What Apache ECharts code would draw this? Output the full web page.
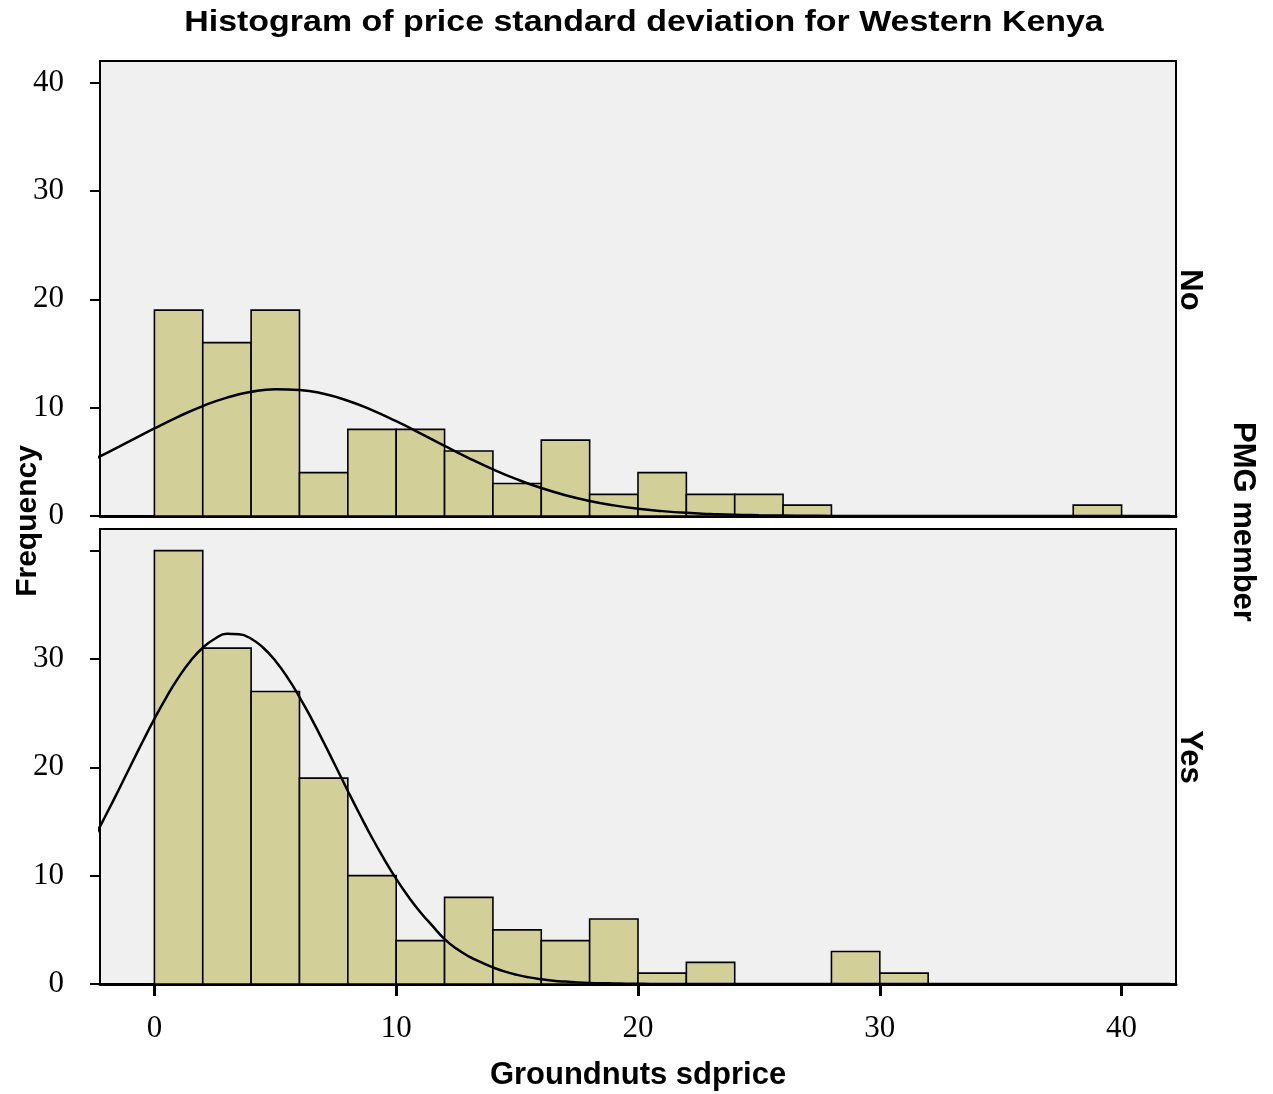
<!DOCTYPE html>
<html>
<head>
<meta charset="utf-8">
<script src="https://cdn.jsdelivr.net/npm/echarts@6/dist/echarts.min.js"></script>
<style>
  html, body { margin: 0; padding: 0; background: #ffffff; }
  #chart { width: 1273px; height: 1094px; }
</style>
</head>
<body>
<div id="chart"></div>
<script>
// Histogram bins (lower edge of each bin, bin width 2)
const binStart = [0, 2, 4, 6, 8, 10, 12, 14, 16, 18, 20, 22, 24, 26, 28, 30, 32, 34, 36, 38];
const binWidth = 2;

// Frequencies per bin for each PMG member group
const noCounts  = [19, 16, 19, 4, 8, 8, 6, 3, 7, 2, 4, 2, 2, 1, 0, 0, 0, 0, 0, 1];
const yesCounts = [40, 31, 27, 19, 10, 4, 8, 5, 4, 6, 1, 2, 0, 0, 3, 1, 0, 0, 0, 0];

// Normal curve heights (frequency scale), "No" group
const noCurveX = [-3, -2, -1, 0, 1, 2, 3, 4, 5, 6, 7, 8, 9, 10, 11, 12, 13, 14, 15, 16, 17, 18, 19, 20,
                  21, 22, 23, 24, 25, 26, 27, 28, 29, 30, 31, 32, 33, 34, 35, 36, 37, 38, 39, 40, 41, 42];
const noCurve = [4.71, 5.79, 6.93, 8.08, 9.18, 10.15, 10.93, 11.46, 11.71, 11.64, 11.28, 10.64, 9.78, 8.75,
                 7.63, 6.47, 5.35, 4.31, 3.38, 2.58, 1.92, 1.39, 0.98, 0.67, 0.45, 0.29, 0.19, 0.11, 0.07,
                 0.04, 0.02, 0.01, 0, 0, 0, 0, 0, 0, 0, 0, 0, 0, 0, 0, 0, 0];

// Normal curve heights (frequency scale), "Yes" group
const yesCurveX = [-3, -2.5, -2, -1.5, -1, -0.5, 0, 0.5, 1, 1.5, 2, 2.5, 3, 3.5, 4, 4.5, 5, 5.5, 6, 6.5,
                   7, 7.5, 8, 8.5, 9, 9.5, 10, 10.5, 11, 11.5, 12, 12.5, 13, 13.5, 14, 14.5, 15, 15.5,
                   16, 16.5, 17, 17.5, 18, 18.5, 19, 19.5, 20, 20.5, 21, 22, 24, 26, 28, 30, 32, 34,
                   36, 38, 40, 42];
const yesCurve = [11.53, 13.50, 15.62, 17.82, 20.08, 22.31, 24.48, 26.49, 28.30, 29.84, 31.04, 31.87,
                  32.32, 32.28, 31.87, 31.04, 29.84, 28.30, 26.49, 24.48, 22.31, 20.08, 17.82, 15.62,
                  13.50, 11.53, 9.70, 8.07, 6.62, 5.36, 4.15, 3.25, 2.55, 2.01, 1.53, 1.14, 0.84, 0.61,
                  0.44, 0.31, 0.22, 0.15, 0.10, 0.07, 0.05, 0.03, 0.02, 0.01, 0.01, 0, 0, 0, 0, 0, 0, 0,
                  0, 0, 0, 0];

// Tick positions and labels
const xTickValues = [0, 10, 20, 30, 40];
const yTickValues = [0, 10, 20, 30, 40];
const topYLabels = [0, 10, 20, 30, 40];
const bottomYLabels = [0, 10, 20, 30];

const panelNames = ['No', 'Yes'];
const titleText = 'Histogram of price standard deviation for Western Kenya';
const xName = 'Groundnuts sdprice';
const yName = 'Frequency';
const facetName = 'PMG member';

const BAR_FILL = '#d3cf98';
const SERIF = '"Liberation Serif", "DejaVu Serif", serif';
const SANS = '"Liberation Sans", Arial, sans-serif';

function binData(counts) {
  const out = [];
  counts.forEach((c, i) => {
    if (c > 0) out.push([binStart[i], binStart[i] + binWidth, c]);
  });
  return out;
}

function renderBin(params, api) {
  const topLeft = api.coord([api.value(0), api.value(2)]);
  const bottomRight = api.coord([api.value(1), 0]);
  return {
    type: 'rect',
    shape: {
      x: topLeft[0],
      y: topLeft[1],
      width: bottomRight[0] - topLeft[0],
      height: bottomRight[1] - topLeft[1]
    },
    style: { fill: BAR_FILL, stroke: '#000', lineWidth: 1.6 }
  };
}

function curveData(xs, values) {
  return xs.map((x, i) => [x, values[i]]);
}

const gridBase = {
  left: 100, width: 1076, height: 455,
  show: true, backgroundColor: '#f0f0f0', borderColor: '#000', borderWidth: 2
};

function xAxisFor(idx, withLabels) {
  return {
    type: 'value', gridIndex: idx, min: -2.25, max: 42.25,
    splitLine: { show: false },
    axisLine: { show: true, onZero: false, lineStyle: { color: '#000', width: 3 } },
    axisTick: withLabels
      ? { show: true, customValues: xTickValues, length: 12, lineStyle: { color: '#000', width: 3 } }
      : { show: false },
    axisLabel: withLabels
      ? { show: true, customValues: xTickValues, margin: 29, color: '#000', fontFamily: SERIF, fontSize: 31 }
      : { show: false },
    name: withLabels ? xName : '',
    nameLocation: 'middle',
    nameGap: 76,
    nameTextStyle: { color: '#000', fontFamily: SANS, fontWeight: 'bold', fontSize: 31 }
  };
}

function yAxisFor(idx, labels) {
  return {
    type: 'value', gridIndex: idx, min: 0, max: 42,
    splitLine: { show: false },
    axisLine: { show: true, onZero: false, lineStyle: { color: '#000', width: 2 } },
    axisTick: { show: true, customValues: yTickValues, length: 10, lineStyle: { color: '#000', width: 2 } },
    axisLabel: { show: true, customValues: labels, margin: 36, color: '#000', fontFamily: SERIF, fontSize: 31,
                 padding: [5, 0, 0, 0] }
  };
}

const chart = echarts.init(document.getElementById('chart'), null, { renderer: 'canvas' });

chart.setOption({
  animation: false,
  backgroundColor: '#ffffff',
  grid: [
    Object.assign({ top: 61 }, gridBase),
    Object.assign({ top: 529 }, gridBase)
  ],
  xAxis: [xAxisFor(0, false), xAxisFor(1, true)],
  yAxis: [yAxisFor(0, topYLabels), yAxisFor(1, bottomYLabels)],
  series: [
    { type: 'custom', name: panelNames[0], xAxisIndex: 0, yAxisIndex: 0,
      data: binData(noCounts), renderItem: renderBin, encode: { x: [0, 1], y: 2 }, z: 2 },
    { type: 'custom', name: panelNames[1], xAxisIndex: 1, yAxisIndex: 1,
      data: binData(yesCounts), renderItem: renderBin, encode: { x: [0, 1], y: 2 }, z: 2 },
    { type: 'line', xAxisIndex: 0, yAxisIndex: 0, data: curveData(noCurveX, noCurve), smooth: true,
      symbol: 'none', clip: true, lineStyle: { color: '#000', width: 2.5 }, z: 3 },
    { type: 'line', xAxisIndex: 1, yAxisIndex: 1, data: curveData(yesCurveX, yesCurve), smooth: true,
      symbol: 'none', clip: true, lineStyle: { color: '#000', width: 2.5 }, z: 3 }
  ],
  graphic: [
    { type: 'text', x: 644, y: 23, scaleX: 1.17, style: { text: titleText, fill: '#000',
      font: 'bold 29px ' + SANS, align: 'center', verticalAlign: 'middle' } },
    { type: 'text', x: 28, y: 521, rotation: Math.PI / 2, style: { text: yName, fill: '#000',
      font: 'bold 30px ' + SANS, align: 'center', verticalAlign: 'middle' } },
    { type: 'text', x: 1243, y: 522, rotation: -Math.PI / 2, style: { text: facetName, fill: '#000',
      font: 'bold 31px ' + SANS, align: 'center', verticalAlign: 'middle' } },
    { type: 'text', x: 1190, y: 290, rotation: -Math.PI / 2, style: { text: panelNames[0], fill: '#000',
      font: 'bold 31px ' + SANS, align: 'center', verticalAlign: 'middle' } },
    { type: 'text', x: 1190, y: 757, rotation: -Math.PI / 2, style: { text: panelNames[1], fill: '#000',
      font: 'bold 31px ' + SANS, align: 'center', verticalAlign: 'middle' } }
  ]
});
</script>
</body>
</html>
